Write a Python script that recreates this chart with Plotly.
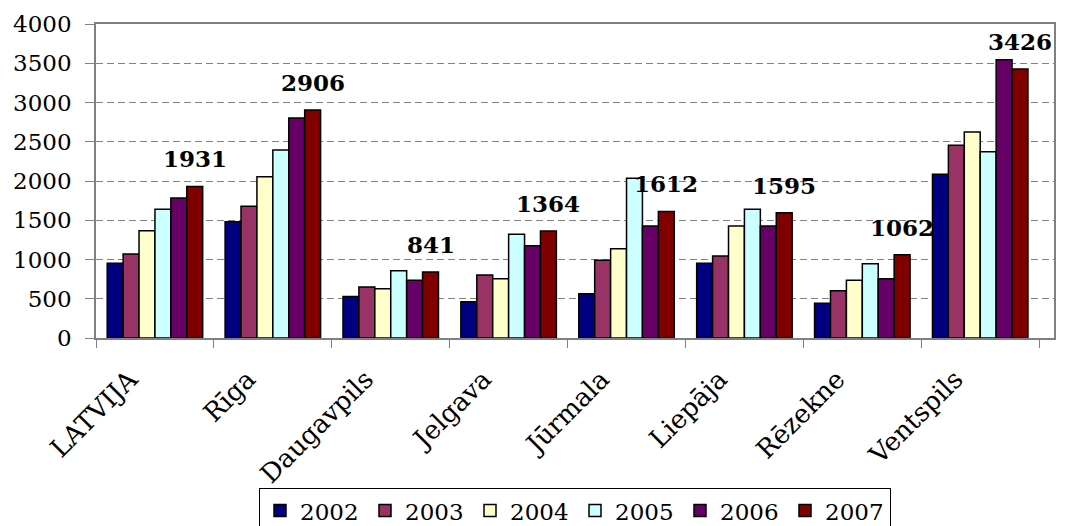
import plotly.graph_objects as go

categories = ["LATVIJA", "Rīga", "Daugavpils", "Jelgava", "Jūrmala", "Liepāja", "Rēzekne", "Ventspils"]
years = ["2002", "2003", "2004", "2005", "2006", "2007"]
v2002 = [951, 1482, 530, 462, 565, 951, 442, 2085]
v2003 = [1070, 1677, 650, 803, 990, 1045, 603, 2455]
v2004 = [1367, 2055, 628, 756, 1138, 1427, 735, 2624]
v2005 = [1639, 2395, 857, 1321, 2034, 1639, 947, 2373]
v2006 = [1783, 2803, 735, 1176, 1427, 1427, 756, 3545]
v2007 = [1931, 2906, 841, 1364, 1612, 1595, 1062, 3426]
series = [v2002, v2003, v2004, v2005, v2006, v2007]
colors = ["#000080", "#993366", "#FFFFCC", "#CCFFFF", "#660066", "#800000"]

FONT = "DejaVu Serif, Liberation Serif, serif"
BARGAP = 0.19

fig = go.Figure()
for name, vals, col in zip(years, series, colors):
    fig.add_trace(go.Bar(
        name=name, x=categories, y=vals,
        marker=dict(color=col, line=dict(color="black", width=1.5)),
    ))

# data labels above 2007 bars
n = len(years)
bw = (1 - BARGAP) / n
off = (n - 1 - (n - 1) / 2) * bw
for i, v in enumerate(v2007):
    fig.add_annotation(
        x=i + off, y=v, xref="x", yref="y", text="<b>%d</b>" % v,
        showarrow=False, yanchor="bottom", yshift=12,
        font=dict(family=FONT, size=23, color="black"),
    )

# page has an 8px body margin; the legend box runs off the bottom like the original
fig.update_layout(
    width=1053, height=518,
    margin=dict(l=88, r=7, t=16, b=188, autoexpand=False),
    paper_bgcolor="white", plot_bgcolor="white",
    barmode="group", bargap=BARGAP, bargroupgap=0,
    font=dict(family=FONT, size=22, color="black"),
    showlegend=True,
    legend=dict(
        orientation="h", x=0.5, xanchor="center", y=-0.478, yanchor="top",
        bordercolor="black", borderwidth=1, font=dict(family=FONT, size=23),
        traceorder="normal", entrywidth=60, entrywidthmode="pixels",
    ),
)
fig.update_yaxes(
    range=[0, 4000], dtick=500, tickformat="d",
    showgrid=True, gridcolor="#808080", griddash="7px,4px", gridwidth=1.2,
    showline=True, linecolor="#808080", linewidth=1.5, mirror=True,
    ticks="outside", ticklen=9, tickcolor="#808080",
    ticklabelstandoff=9, zeroline=False,
    tickfont=dict(family=FONT, size=23),
)
fig.update_xaxes(
    type="category", tickangle=-45, tickson="boundaries",
    showline=True, linecolor="#808080", linewidth=1.5, mirror=True,
    ticks="outside", ticklen=8, tickcolor="#808080",
    ticklabelstandoff=14, ticklabelshift=-25,
    tickfont=dict(family=FONT, size=26),
)

fig.write_html("out.html")
